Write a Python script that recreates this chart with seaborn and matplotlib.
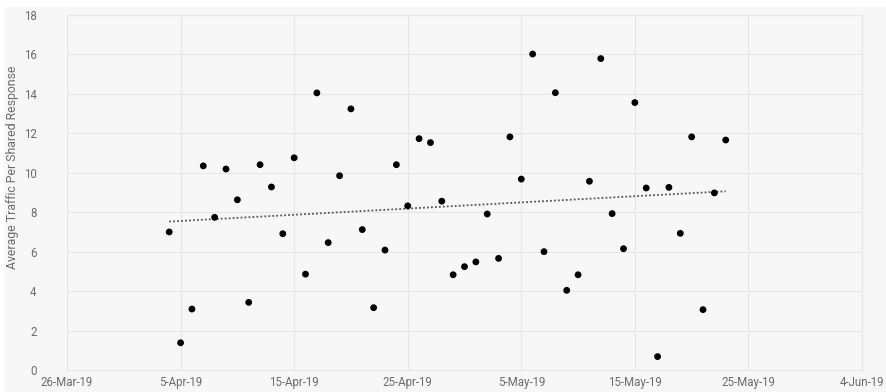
import numpy as np
import pandas as pd
import matplotlib
matplotlib.use("Agg")
import matplotlib.pyplot as plt
import matplotlib.dates as mdates
from matplotlib.patches import Rectangle
import seaborn as sns

# Daily average traffic per shared response, 4 Apr 2019 to 23 May 2019
start_date = "2019-04-04"
traffic = [
    7.0, 1.38, 3.09, 10.35, 7.74, 10.19, 8.63, 3.43, 10.41, 9.28,
    6.91, 10.76, 4.86, 14.05, 6.46, 9.85, 13.24, 7.12, 3.16, 6.08,
    10.41, 8.32, 11.73, 11.53, 8.56, 4.83, 5.24, 5.48, 7.91, 5.66,
    11.82, 9.68, 16.02, 6.0, 14.06, 4.04, 4.83, 9.57, 15.79, 7.93,
    6.15, 13.56, 9.23, 0.68, 9.26, 6.93, 11.82, 3.06, 8.98, 11.66,
]
y_ticks = [0, 2, 4, 6, 8, 10, 12, 14, 16, 18]
x_tick_dates = ["2019-03-26", "2019-04-05", "2019-04-15", "2019-04-25",
                "2019-05-05", "2019-05-15", "2019-05-25", "2019-06-04"]

dates = pd.date_range(start_date, periods=len(traffic), freq="D")
df = pd.DataFrame({"date": dates, "traffic": traffic})
df["x"] = mdates.date2num(df["date"])

sns.set_theme(style="whitegrid")
plt.rcParams["font.family"] = ["Roboto", "DejaVu Sans"]

bg = "#f7f7f7"
text_col = "#6b6b6b"

fig = plt.figure(figsize=(8.87, 3.92), dpi=100, facecolor="white")
fig.patches.append(Rectangle((4 / 887, 0), 882 / 887, 385 / 392,
                             transform=fig.transFigure, facecolor=bg,
                             edgecolor="none", zorder=-10))
ax = fig.add_axes([67 / 887, 22 / 392, 795 / 887, 355 / 392])
ax.set_zorder(1)
ax.set_facecolor(bg)

sns.regplot(data=df, x="x", y="traffic", ax=ax, scatter=False, ci=None,
            truncate=True,
            line_kws=dict(color="#555555", lw=1.3, ls=(0, (1, 1.2))))
sns.scatterplot(data=df, x="x", y="traffic", ax=ax, color="black",
                s=24, edgecolor="none", zorder=3)

x_ticks = mdates.date2num(pd.to_datetime(x_tick_dates))
ax.set_xlim(x_ticks[0], x_ticks[-1])
ax.set_ylim(0, 18)
ax.set_xticks(x_ticks)
ax.set_xticklabels([pd.Timestamp(d).strftime("%-d-%b-%y") for d in x_tick_dates])
ax.set_yticks(y_ticks)

ax.grid(True, color="#e6e6e6", lw=0.8)
for s in ax.spines.values():
    s.set_visible(True)
    s.set_color("#e6e6e6")
    s.set_linewidth(0.8)

ax.tick_params(axis="both", colors=text_col, labelsize=8.3, length=0, pad=4)
ax.tick_params(axis="y", pad=22)
for lbl in ax.get_yticklabels():
    lbl.set_horizontalalignment("right")

ax.set_xlabel("")
ax.set_ylabel("Average Traffic Per Shared Response", color=text_col,
              fontsize=8.8)
ax.yaxis.set_label_coords(-0.061, 0.572)

fig.savefig("out.png", dpi=100, facecolor="white")
